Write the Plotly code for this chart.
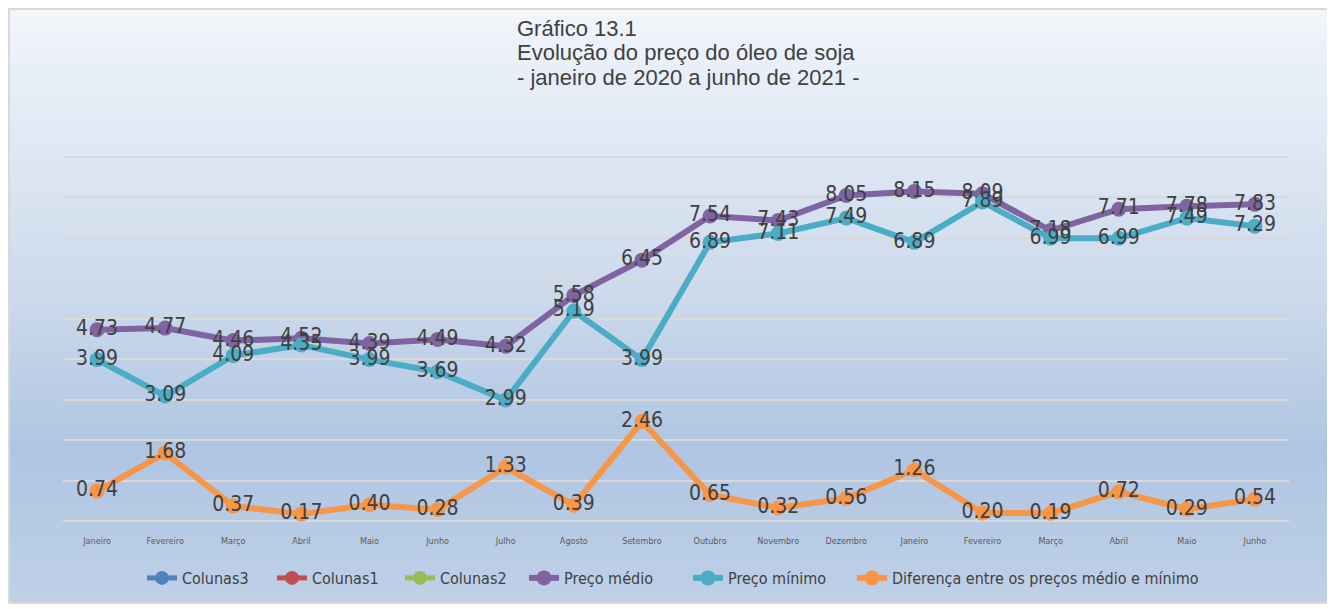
import plotly.graph_objects as go

months = ["Janeiro", "Fevereiro", "Março", "Abril", "Maio", "Junho", "Julho", "Agosto",
          "Setembro", "Outubro", "Novembro", "Dezembro", "Janeiro", "Fevereiro", "Março",
          "Abril", "Maio", "Junho"]
preco_medio = [4.73, 4.77, 4.46, 4.52, 4.39, 4.49, 4.32, 5.58, 6.45, 7.54, 7.43, 8.05,
               8.15, 8.09, 7.18, 7.71, 7.78, 7.83]
preco_minimo = [3.99, 3.09, 4.09, 4.35, 3.99, 3.69, 2.99, 5.19, 3.99, 6.89, 7.11, 7.49,
                6.89, 7.89, 6.99, 6.99, 7.49, 7.29]
diferenca = [0.74, 1.68, 0.37, 0.17, 0.40, 0.28, 1.33, 0.39, 2.46, 0.65, 0.32, 0.56,
             1.26, 0.20, 0.19, 0.72, 0.29, 0.54]
x_idx = list(range(len(months)))

OFF = 8  # page body margin
W, H = 1335 - OFF, 609 - OFF
L, R, T, B = 63 - OFF, 1289 - OFF, 155 - OFF, 523 - OFF  # plot area (figure px)


def px2x(px):  # px given in page pixels
    return (px - OFF - L) / (R - L)


def py2y(py):
    return (B - (py - OFF)) / (B - T)


def hex2rgb(h):
    h = h.lstrip("#")
    return tuple(int(h[i:i + 2], 16) for i in (0, 2, 4))


stops = [(0, "#F5F8FB"), (40, "#EDF2FA"), (300, "#CBD9EB"), (450, "#AFC5E2"), (609, "#C0D1E8")]


def grad(py):
    for (a, ca), (b, cb) in zip(stops[:-1], stops[1:]):
        if a <= py <= b:
            t = (py - a) / (b - a)
            r1, r2 = hex2rgb(ca), hex2rgb(cb)
            return "rgb(%d,%d,%d)" % tuple(round(r1[i] + (r2[i] - r1[i]) * t) for i in range(3))
    return stops[-1][1]


shapes = []
step = 4
top_px, bot_px, left_px, right_px = 9, 603, 9, 1329
for py in range(top_px, bot_px, step):
    shapes.append(dict(type="rect", xref="paper", yref="paper", layer="below",
                       x0=px2x(left_px), x1=px2x(right_px),
                       y0=py2y(min(py + step + 0.5, bot_px)), y1=py2y(py),
                       fillcolor=grad(py + step / 2), line=dict(width=0)))
shapes.append(dict(type="rect", xref="paper", yref="paper", layer="above",
                   x0=px2x(left_px), x1=px2x(right_px), y0=py2y(bot_px), y1=py2y(top_px),
                   fillcolor="rgba(0,0,0,0)", line=dict(color="#D9D9D9", width=2)))

narrow = "Liberation Sans Narrow, DejaVu Sans Condensed, Arial Narrow, sans-serif"
label_font = dict(family=narrow, size=21, color="#404040")

series = [("Colunas3", None, "#4F81BD"), ("Colunas1", None, "#C0504D"), ("Colunas2", None, "#9BBB59"),
          ("Preço médio", preco_medio, "#8064A2"),
          ("Preço mínimo", preco_minimo, "#4BACC6"),
          ("Diferença entre os preços médio e mínimo", diferenca, "#F79646")]
legend_marker_px = [163, 293, 421, 545, 709, 873]

fig = go.Figure()
legends = {}
for i, ((name, vals, col), mx) in enumerate(zip(series, legend_marker_px)):
    lname = "legend" if i == 0 else "legend%d" % (i + 1)
    legends[lname] = dict(orientation="h", x=px2x(mx - 21), xanchor="left",
                          y=py2y(578), yanchor="middle", bgcolor="rgba(0,0,0,0)", itemwidth=30,
                          font=dict(family=narrow, size=16, color="#404040"))
    if vals is None:
        fig.add_trace(go.Scatter(x=[None], y=[None], name=name, mode="lines+markers", legend=lname,
                                 line=dict(color=col, width=5), marker=dict(color=col, size=14)))
    else:
        fig.add_trace(go.Scatter(x=x_idx, y=vals, name=name, mode="lines+markers+text", legend=lname,
                                 line=dict(color=col, width=6), marker=dict(color=col, size=15),
                                 texttemplate="%{y:.2f}", textposition="middle center",
                                 textfont=label_font, cliponaxis=False))

title_lines = ["Gráfico 13.1", "Evolução do preço do óleo de soja", "- janeiro de 2020 a junho de 2021 -"]
title_centers = [28.5, 52.5, 77.5]
for txt, cy in zip(title_lines, title_centers):
    fig.add_annotation(text=txt, xref="paper", yref="paper", x=px2x(515), y=py2y(cy),
                       xanchor="left", yanchor="middle", align="left", showarrow=False,
                       font=dict(family="Liberation Sans, Arial, sans-serif", size=22, color="#404040"))

fig.update_layout(
    width=W, height=H,
    margin=dict(l=L, r=W - R, t=T, b=H - B, pad=0),
    paper_bgcolor="#FFFFFF", plot_bgcolor="rgba(0,0,0,0)",
    shapes=shapes,
    showlegend=True,
    xaxis=dict(range=[-0.5, 17.5], tickvals=x_idx, ticktext=months, showgrid=False,
               zeroline=False, showline=False, ticks="outside", ticklen=9,
               tickcolor="rgba(0,0,0,0)",
               tickfont=dict(family=narrow, size=9, color="#595959")),
    yaxis=dict(range=[-0.05, 9.05], dtick=1, showticklabels=False, showgrid=True, gridcolor="#D9D9D9",
               gridwidth=2, zeroline=False, showline=False, ticks=""),
    **legends,
)

fig.write_html("out.html")
